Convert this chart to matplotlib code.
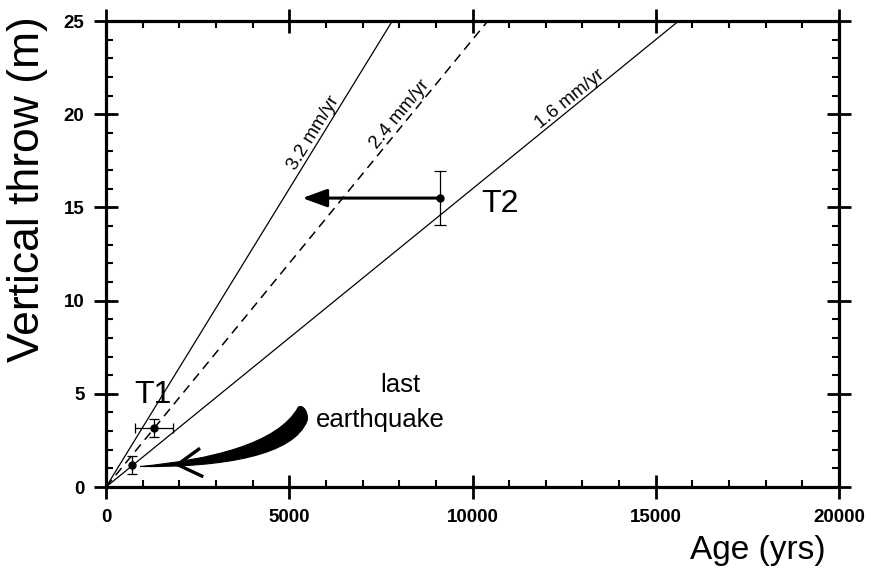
import numpy as np
import matplotlib
matplotlib.use('Agg')
import matplotlib.pyplot as plt
from matplotlib.path import Path
from matplotlib.patches import PathPatch

plt.rcParams['font.family'] = ['Liberation Sans', 'DejaVu Sans']

# ---- data ----
rates_mm_yr = [3.2, 2.4, 1.6]
rate_labels = ['3.2 mm/yr', '2.4 mm/yr', '1.6 mm/yr']
rate_styles = ['-', '--', '-']
rate_label_age = [5855, 8200, 12800]

t1_age = [1310, 700]
t1_throw = [3.17, 1.18]
t1_age_err = [520, 0]
t1_throw_err = [0.5, 0.48]

t2_age = [9100]
t2_throw = [15.5]
t2_throw_err = [1.45]
t2_arrow_to_age = 5357

x_ticks = [0, 5000, 10000, 15000, 20000]
y_ticks = [0, 5, 10, 15, 20, 25]

# curved "last earthquake" arrow outline (data coords)
eq_upper = [(5247, 4.28), (4700, 2.3), (2800, 1.45), (928, 1.10)]
eq_lower = [(928, 1.07), (3200, 1.05), (5150, 1.7), (5492, 3.59)]
eq_tail = [(5492, 3.59), (5520, 4.0), (5380, 4.45), (5247, 4.28)]
eq_head = [(2565, 2.08), (1950, 1.2), (2655, 0.55)]

W, H = 871, 570
fig = plt.figure(figsize=(W / 100, H / 100), dpi=100)
ax = fig.add_axes([106 / W, 1 - 487 / H, 733 / W, 466 / H])

ax.set_xlim(0, 20000)
ax.set_ylim(0, 25)

xx = np.array([0, 20000])
for r, lab, ls, la in zip(rates_mm_yr, rate_labels, rate_styles, rate_label_age):
    rate = r / 1000.0
    if ls == '--':
        ax.plot(xx, rate * xx, color='k', lw=1.1, ls=(0, (6, 4)))
    else:
        ax.plot(xx, rate * xx, color='k', lw=0.9, ls=ls)
    ang = np.degrees(np.arctan(rate))
    ax.text(la, rate * la, lab, rotation=ang, transform_rotates_text=True,
            rotation_mode='anchor', ha='center', va='bottom', fontsize=13.5)

ax.errorbar(t1_age, t1_throw, xerr=t1_age_err, yerr=t1_throw_err, fmt='o',
            ms=5, color='k', ecolor='k', elinewidth=0.9, capsize=3.5, capthick=0.9)
ax.errorbar(t2_age, t2_throw, yerr=t2_throw_err, fmt='o',
            ms=5, color='k', ecolor='k', elinewidth=0.9, capsize=4, capthick=0.9)

ax.annotate('', xy=(t2_arrow_to_age, t2_throw[0]), xytext=(t2_age[0], t2_throw[0]),
            arrowprops=dict(arrowstyle='-|>,head_length=1.5,head_width=0.55',
                            lw=2.2, color='k', shrinkA=0, shrinkB=0))

verts = eq_upper + eq_lower[1:] + eq_tail[1:]
codes = ([Path.MOVETO] + [Path.CURVE4] * 3 + [Path.CURVE4] * 3 + [Path.CURVE4] * 3)
ax.add_patch(PathPatch(Path(verts, codes), facecolor='k', edgecolor='k', lw=0.8))
hx, hy = zip(*eq_head)
ax.plot(hx, hy, color='k', lw=2.4, solid_capstyle='butt', solid_joinstyle='miter')

ax.text(1282, 4.94, 'T1', fontsize=23, ha='center', va='center')
ax.text(10750, 15.18, 'T2', fontsize=23, ha='center', va='center')
ax.text(8022, 5.47, 'last', fontsize=18.5, ha='center', va='center')
ax.text(7476, 3.59, 'earthquake', fontsize=18.5, ha='center', va='center')

ax.set_xticks(x_ticks)
ax.set_xticklabels([str(v) for v in x_ticks], fontweight='bold')
ax.set_yticks(y_ticks)
ax.set_yticklabels([str(v) for v in y_ticks], fontweight='bold')
ax.set_xticks(np.arange(0, 20001, 1000), minor=True)
ax.set_yticks(np.arange(0, 26, 1), minor=True)
ax.tick_params(which='major', direction='inout', length=17, width=2,
               top=True, right=True, labelsize=13.5, pad=7)
ax.tick_params(which='minor', direction='in', length=5, width=1.5,
               top=True, right=True)
for s in ax.spines.values():
    s.set_linewidth(2.3)

fig.text(0.032, 0.668, 'Vertical throw (m)', rotation=90, fontsize=32,
         ha='center', va='center')
fig.text(0.870, 0.035, 'Age (yrs)', fontsize=24, ha='center', va='center')

fig.savefig('out.png', dpi=100)
